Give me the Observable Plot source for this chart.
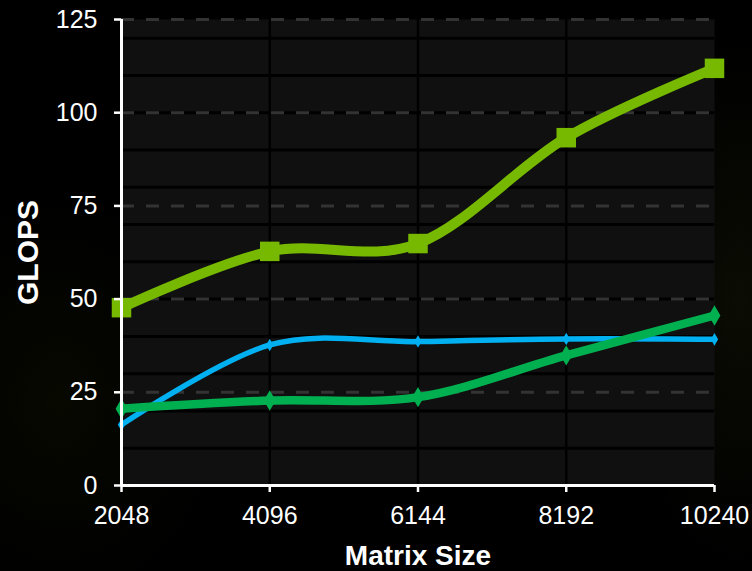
<!DOCTYPE html>
<html>
<head>
<meta charset="utf-8">
<script src="https://cdn.jsdelivr.net/npm/d3@7"></script>
<script src="https://cdn.jsdelivr.net/npm/@observablehq/plot@0.6"></script>
<style>
  html, body { margin: 0; padding: 0; }
  body {
    width: 752px; height: 571px; overflow: hidden;
    background:
      radial-gradient(ellipse 120px 260px at 740px 300px, #0b0c03 0%, rgba(0,0,0,0) 100%),
      radial-gradient(ellipse 160px 200px at 60px 400px, #070800 0%, rgba(0,0,0,0) 100%),
      #000;
  }
  #chart svg { display: block; }
</style>
</head>
<body>
<div id="chart"></div>
<script>
// Matrix sizes (x categories)
const sizes = [2048, 4096, 6144, 8192, 10240];
// Series values (GLOPS)
const seriesLightGreen = [47.7, 62.8, 64.9, 93.3, 111.9];
const seriesBlue = [16.3, 37.7, 38.6, 39.3, 39.2];
const seriesDarkGreen = [20.6, 22.8, 23.7, 34.9, 45.6];
// Tick values
const yTicks = [0, 25, 50, 75, 100, 125];
const yMinor = [10, 20, 30, 40, 50, 60, 70, 80, 90, 100, 110, 120];

const toRows = (vals) => sizes.map((s, i) => ({size: s, value: vals[i]}));
const lightGreen = toRows(seriesLightGreen);
const blue = toRows(seriesBlue);
const darkGreen = toRows(seriesDarkGreen);

const font = "'Liberation Sans', Arial, Helvetica, sans-serif";
const curve = "cardinal";

const chart = Plot.plot({
  width: 752,
  height: 571,
  marginTop: 19,
  marginBottom: 86,
  marginLeft: 121,
  marginRight: 38,
  style: {background: "transparent", color: "white", fontFamily: font, fontSize: "25px"},
  x: {domain: [2048, 10240], type: "linear"},
  y: {domain: [0, 125]},
  marks: [
    Plot.frame({fill: "#101010", stroke: null}),
    Plot.ruleY(yMinor, {stroke: "#000", strokeWidth: 3}),
    Plot.ruleX(sizes.slice(1, -1), {stroke: "#000", strokeWidth: 2.5}),
    Plot.ruleY(yTicks.slice(1), {stroke: "#333", strokeWidth: 3, strokeDasharray: "13,12"}),
    Plot.line(blue, {x: "size", y: "value", stroke: "#00b0f0", strokeWidth: 5.5, curve}),
    Plot.dot(blue, {x: "size", y: "value", symbol: "diamond", r: 3.8, fill: "#00b0f0", stroke: null}),
    Plot.line(darkGreen, {x: "size", y: "value", stroke: "#00b050", strokeWidth: 8.5, curve}),
    Plot.dot(darkGreen, {x: "size", y: "value", symbol: "diamond", r: 6.2, fill: "#00b050", stroke: null}),
    Plot.line(lightGreen, {x: "size", y: "value", stroke: "#76b900", strokeWidth: 10, curve}),
    Plot.dot(lightGreen, {x: "size", y: "value", symbol: "square", r: 11, fill: "#76b900", stroke: null}),
    Plot.ruleX([2048], {stroke: "white", strokeWidth: 3}),
    Plot.ruleY([0], {stroke: "white", strokeWidth: 3}),
    Plot.axisY({ticks: yTicks, tickSize: 7, tickPadding: 17, stroke: "white", strokeWidth: 2.5,
      fill: "white", fontSize: 25, label: null}),
    Plot.axisX({ticks: sizes, tickSize: 7, tickPadding: 14, tickFormat: "d", stroke: "white", strokeWidth: 2.5,
      fill: "white", fontSize: 25, label: null}),
    Plot.text(["Matrix Size"], {frameAnchor: "bottom", dy: 79, text: d => d, fill: "white",
      textAnchor: "middle", fontSize: 28, fontWeight: "bold"}),
    Plot.text(["GLOPS"], {frameAnchor: "left", dx: -93, rotate: -90, text: d => d, fill: "white",
      textAnchor: "middle", lineAnchor: "middle", fontSize: 30, fontWeight: "bold"})
  ]
});
document.getElementById("chart").appendChild(chart);
</script>
</body>
</html>
